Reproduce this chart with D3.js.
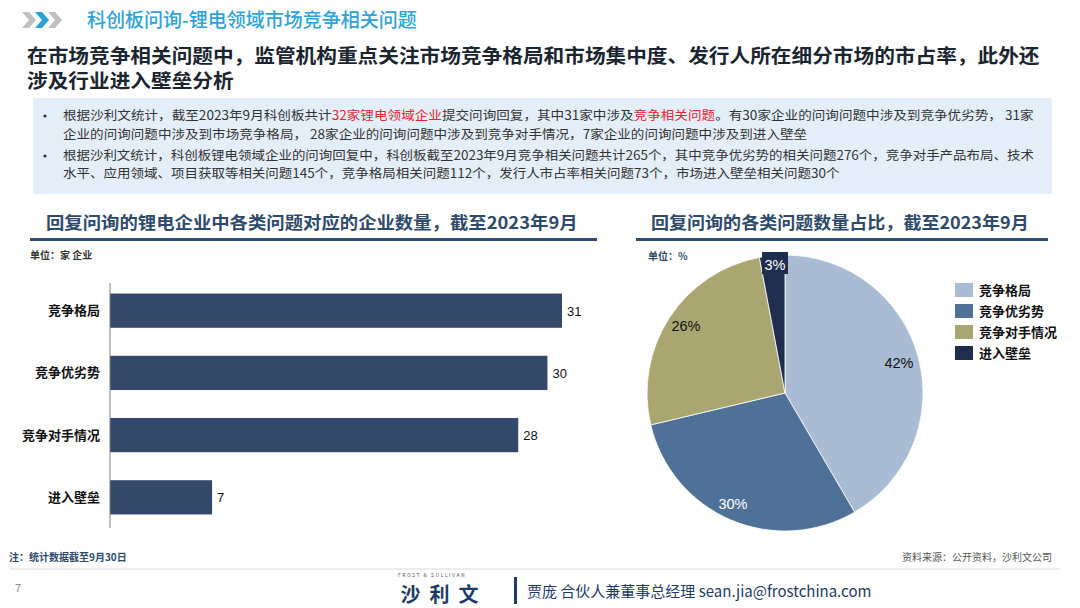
<!DOCTYPE html>
<html><head><meta charset="utf-8">
<script src="https://cdn.jsdelivr.net/npm/d3@7"></script>
<style>
html,body{margin:0;padding:0;background:#fff;}
svg{display:block;font-family:"Noto Sans CJK SC","Noto Sans",sans-serif;}
</style></head>
<body>
<svg id="c" width="1080" height="608"></svg>
<script>
const barCategories = ["竞争格局","竞争优劣势","竞争对手情况","进入壁垒"];
const barValues = [31,30,28,7];
const pieCategories = ["竞争格局","竞争优劣势","竞争对手情况","进入壁垒"];
const pieValues = [42,30,26,3];
const pieLabels = ["42%","30%","26%","3%"];

const svg = d3.select("#c");

function fitText(parent, tx, ty, w, attrs, str){
  const g = parent.append("g");
  const t = g.append("text").attr("x",0).attr("y",0);
  Object.entries(attrs).forEach(([k,v])=>t.attr(k,v));
  t.text(str);
  const s = w / t.node().getComputedTextLength();
  g.attr("transform",`translate(${tx},${ty}) scale(${s},1)`);
  return s;
}

// header chevrons
const chev = [[22,"#bfbfbf"],[35,"#29a3d6"],[48,"#bfbfbf"]];
chev.forEach(([x,c])=>{
  svg.append("path").attr("d",`M${x},12 L${x+7},12 L${x+14},20 L${x+7},28 L${x},28 L${x+7},20 Z`).attr("fill",c);
});
svg.append("text").attr("x",87).attr("y",27).attr("font-size",19).attr("font-weight",500).attr("fill","#2ea3d8")
  .text("科创板问询-锂电领域市场竞争相关问题");

// subtitle
const subAttrs = {"font-size":19,"font-weight":700,"fill":"#1a2530"};
const sc = fitText(svg,27,63,1013,subAttrs,"在市场竞争相关问题中，监管机构重点关注市场竞争格局和市场集中度、发行人所在细分市场的市占率，此外还");
const g2 = svg.append("g").attr("transform",`translate(27,88) scale(${sc},1)`).append("text");
Object.entries(subAttrs).forEach(([k,v])=>g2.attr(k,v));
g2.text("涉及行业进入壁垒分析");

// blue box
svg.append("rect").attr("x",33).attr("y",98).attr("width",1019).attr("height",96).attr("fill","#e4eef9");
const lines = [
  {y:120, w:972, bullet:true, parts:[["根据沙利文统计，截至2023年9月科创板共计","#333"],["32家锂电领域企业","#e3262f"],["提交问询回复，其中31家中涉及","#333"],["竞争相关问题","#e3262f"],["。有30家企业的问询问题中涉及到竞争优劣势， 31家","#333"]]},
  {y:139, w:745, bullet:false, parts:[["企业的问询问题中涉及到市场竞争格局， 28家企业的问询问题中涉及到竞争对手情况，7家企业的问询问题中涉及到进入壁垒","#333"]]},
  {y:160, w:972, bullet:true, parts:[["根据沙利文统计，科创板锂电领域企业的问询回复中，科创板截至2023年9月竞争相关问题共计265个，其中竞争优劣势的相关问题276个，竞争对手产品布局、技术","#333"]]},
  {y:178, w:777, bullet:false, parts:[["水平、应用领域、项目获取等相关问题145个，竞争格局相关问题112个，发行人市占率相关问题73个，市场进入壁垒相关问题30个","#333"]]}
];
lines.forEach(l=>{
  if(l.bullet) svg.append("circle").attr("cx",45).attr("cy",l.y-4).attr("r",1.6).attr("fill","#333");
  const g = svg.append("g");
  const t = g.append("text").attr("x",0).attr("y",0).attr("font-size",12.5);
  l.parts.forEach(p=>t.append("tspan").attr("fill",p[1]).text(p[0]));
  const len = t.node().getComputedTextLength();
  g.attr("transform",`translate(63,${l.y}) scale(${l.w/len},1)`);
});

// section titles
const secAttrs = {"font-size":17,"font-weight":700,"fill":"#2e4a6b"};
fitText(svg,46,229,532,secAttrs,"回复问询的锂电企业中各类问题对应的企业数量，截至2023年9月");
svg.append("rect").attr("x",30).attr("y",238).attr("width",567).attr("height",3).attr("fill","#2f4d6e");
fitText(svg,651,229,378,secAttrs,"回复问询的各类问题数量占比，截至2023年9月");
svg.append("rect").attr("x",636).attr("y",238).attr("width",412).attr("height",3).attr("fill","#2f4d6e");

svg.append("text").attr("x",30).attr("y",259).attr("font-size",10).attr("font-weight",700).attr("fill","#333").text("单位：家 企业");
svg.append("text").attr("x",648).attr("y",260).attr("font-size",10).attr("font-weight",700).attr("fill","#2e4a6b").text("单位：%");

// bar chart
const x = d3.scaleLinear().domain([0,31]).range([110,562]);
const y = d3.scaleBand().domain(barCategories).range([278,530]).paddingInner(0.45).paddingOuter(0.25);
svg.append("g").selectAll("rect").data(barCategories).join("rect")
  .attr("x",x(0)).attr("y",d=>y(d)).attr("width",(d,i)=>x(barValues[i])-x(0)).attr("height",y.bandwidth())
  .attr("fill","#34496a");
svg.append("line").attr("x1",x(0)).attr("x2",x(0)).attr("y1",283).attr("y2",528).attr("stroke","#7f7f7f").attr("stroke-width",1);
svg.append("g").selectAll("text").data(barCategories).join("text")
  .attr("x",100).attr("y",d=>y(d)+y.bandwidth()/2+4.5).attr("text-anchor","end").attr("font-size",13).attr("font-weight",700).attr("fill","#111")
  .text(d=>d);
svg.append("g").selectAll("text").data(barCategories).join("text")
  .attr("x",(d,i)=>x(barValues[i])+5).attr("y",d=>y(d)+y.bandwidth()/2+5).attr("font-size",13).attr("fill","#111")
  .attr("font-family","Liberation Sans, Arial, sans-serif")
  .text((d,i)=>barValues[i]);

// pie
const pieColors = ["#a9bcd4","#4f7197","#aaa672","#1f2d4f"];
const cx=785, cy=393, R=138;
const pie = d3.pie().sort(null).value(d=>d)(pieValues);
const arc = d3.arc().innerRadius(0).outerRadius(R);
const pg = svg.append("g").attr("transform",`translate(${cx},${cy})`);
pg.selectAll("path").data(pie).join("path").attr("d",arc).attr("fill",(d,i)=>pieColors[i]).attr("stroke","#fff").attr("stroke-width",0.8);
const labelPos = [[114,-30],[-52,111],[-99,-67],[-10,-128]];
const labelFill = ["#111","#fff","#111","#fff"];
pg.append("rect").attr("x",labelPos[3][0]-13).attr("y",-141).attr("width",26).attr("height",22).attr("fill",pieColors[3]);
pg.selectAll("text").data(pie).join("text")
  .attr("x",(d,i)=>labelPos[i][0]).attr("y",(d,i)=>labelPos[i][1]+5)
  .attr("text-anchor","middle").attr("font-size",14.5).attr("fill",(d,i)=>labelFill[i])
  .attr("font-family","Liberation Sans, Arial, sans-serif")
  .text((d,i)=>pieLabels[i]);

// legend
const lg = svg.append("g");
pieCategories.forEach((c,i)=>{
  const yy = 283 + i*21;
  lg.append("rect").attr("x",955).attr("y",yy).attr("width",18).attr("height",14).attr("fill",pieColors[i]);
  lg.append("text").attr("x",979).attr("y",yy+12).attr("font-size",13).attr("font-weight",700).attr("fill","#111").text(c);
});

// footer
svg.append("text").attr("x",9).attr("y",561).attr("font-size",10).attr("font-weight",700).attr("fill","#2e4a6b").text("注：统计数据截至9月30日");
svg.append("text").attr("x",1052).attr("y",561).attr("text-anchor","end").attr("font-size",10).attr("fill","#555").text("资料来源：公开资料，沙利文公司");
svg.append("line").attr("x1",10).attr("x2",1060).attr("y1",569).attr("y2",569).attr("stroke","#d9d9d9").attr("stroke-width",1);
svg.append("text").attr("x",15).attr("y",592).attr("font-size",11).attr("fill","#888").text("7");
svg.append("text").attr("x",432).attr("y",577).attr("text-anchor","middle").attr("font-size",5).attr("letter-spacing",1.5).attr("fill","#555").text("FROST & SULLIVAN");
svg.append("text").attr("x",444).attr("y",602).attr("text-anchor","middle").attr("font-size",20).attr("font-weight",700).attr("letter-spacing",9).attr("fill","#1d3b66").text("沙利文");
svg.append("rect").attr("x",514).attr("y",577).attr("width",3).attr("height",27).attr("fill","#1d3b66");
svg.append("text").attr("x",527).attr("y",597).attr("font-size",15).attr("fill","#1d3b66").text("贾庞 合伙人兼董事总经理 sean.jia@frostchina.com");
</script>
</body></html>
